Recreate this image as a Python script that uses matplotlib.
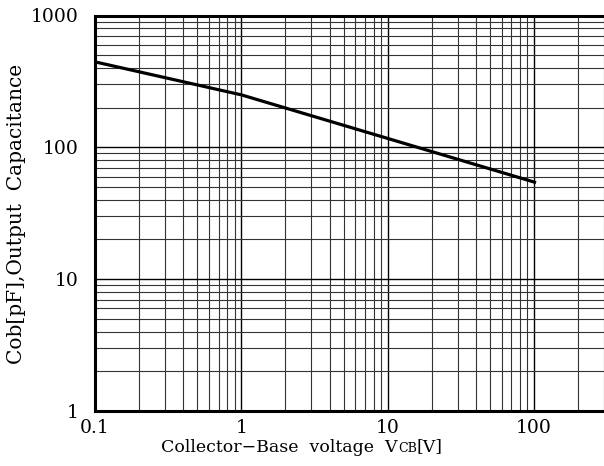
import matplotlib
matplotlib.use("Agg")
import matplotlib.pyplot as plt
from matplotlib.ticker import LogLocator, FixedLocator, NullFormatter
from matplotlib.offsetbox import TextArea, HPacker, AnchoredOffsetbox

# curve (log-log)
vcb = [0.1, 1.0, 103]
cob = [445, 250, 54]

x_ticks = [0.1, 1, 10, 100]
x_labels = ["0.1", "1", "10", "100"]
y_ticks = [1, 10, 100, 1000]
y_labels = ["1", "10", "100", "1000"]

plt.rcParams['font.family'] = ['DejaVu Serif']

fig = plt.figure(figsize=(6.04, 4.66), dpi=100)
ax = fig.add_axes([95 / 604, 1 - 411 / 466, 1 - 95 / 604, (411 - 15.5) / 466])

ax.plot(vcb, cob, color='black', lw=2.3, solid_capstyle='butt')

ax.set_xscale('log')
ax.set_yscale('log')
ax.set_xlim(0.1, 300)
ax.set_ylim(1, 1000)

ax.xaxis.set_major_locator(FixedLocator(x_ticks))
ax.set_xticklabels(x_labels)
ax.yaxis.set_major_locator(FixedLocator(y_ticks))
ax.set_yticklabels(y_labels)
ax.xaxis.set_minor_locator(LogLocator(base=10, subs=range(2, 10), numticks=20))
ax.yaxis.set_minor_locator(LogLocator(base=10, subs=range(2, 10), numticks=20))
ax.xaxis.set_minor_formatter(NullFormatter())
ax.yaxis.set_minor_formatter(NullFormatter())

ax.grid(True, which='major', color='black', lw=1.0)
ax.grid(True, which='minor', color='#333333', lw=0.8)
ax.tick_params(which='both', length=0, labelsize=13.5)
ax.tick_params(axis='x', pad=6)
ax.tick_params(axis='y', pad=12)

for side in ['left', 'bottom', 'top']:
    ax.spines[side].set_linewidth(2.2)
ax.spines['right'].set_visible(False)

# y label
fig.text(17 / 604, 1 - 214 / 466, "Cob[pF],Output  Capacitance", rotation=90,
         ha='center', va='center', fontsize=14.5)

# x label with small caps "CB"
parts = [TextArea("Collector\u2212Base  voltage  V", textprops=dict(fontsize=12.5)),
         TextArea("CB", textprops=dict(fontsize=9)),
         TextArea("[V]", textprops=dict(fontsize=12.5))]
box = HPacker(children=parts, align="baseline", pad=0, sep=0)
anch = AnchoredOffsetbox(loc='center', child=box, frameon=False,
                         bbox_to_anchor=(302 / 604, 1 - 447 / 466),
                         bbox_transform=fig.transFigure, borderpad=0, pad=0)
fig.add_artist(anch)

fig.savefig("out.png", dpi=100)
